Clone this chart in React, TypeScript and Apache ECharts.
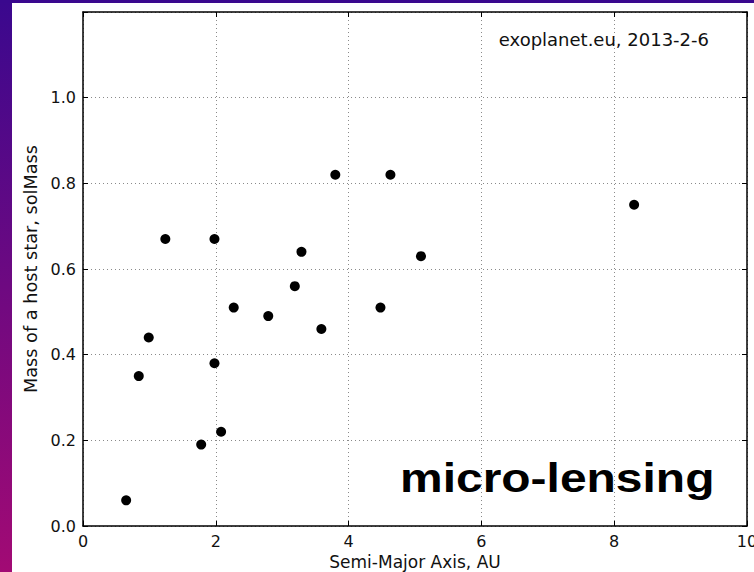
import React, { useEffect, useRef } from "react";
import * as echarts from "echarts";

const semiMajorAxis = [0.65, 0.84, 0.99, 1.24, 1.78, 1.98, 1.98, 2.08, 2.27, 2.79, 3.19, 3.29, 3.59, 3.8, 4.48, 4.63, 5.09, 8.3];
const hostMass = [0.06, 0.35, 0.44, 0.67, 0.19, 0.67, 0.38, 0.22, 0.51, 0.49, 0.56, 0.64, 0.46, 0.82, 0.51, 0.82, 0.63, 0.75];
const xTicks = [0, 2, 4, 6, 8, 10];
const yTicks = [0, 0.2, 0.4, 0.6, 0.8, 1.0, 1.2];

const FONT = "DejaVu Sans";

export default function App() {
  const ref = useRef<HTMLDivElement>(null);
  useEffect(() => {
    if (!ref.current) return;
    const chart = echarts.init(ref.current, undefined, { renderer: "svg" });
    const data = semiMajorAxis.map((x, i) => [x, hostMass[i]]);
    const yLabel = (v: number) => (v >= 1.1 ? "" : v.toFixed(1));
    const commonX = {
      type: "value" as const,
      min: xTicks[0],
      max: xTicks[xTicks.length - 1],
      interval: 2,
    };
    const commonY = {
      type: "value" as const,
      min: yTicks[0],
      max: yTicks[yTicks.length - 1],
      interval: 0.2,
    };
    const axisLine = { show: true, onZero: false, lineStyle: { color: "#000", width: 1.5 } };
    const axisTick = { show: true, inside: true, length: 5, lineStyle: { color: "#000", width: 1 } };
    const grid = { show: true, lineStyle: { color: "#8a8a8a", type: [1, 3], width: 1 } };
    chart.setOption({
      animation: false,
      backgroundColor: "#ffffff",
      textStyle: { fontFamily: FONT },
      grid: { left: 83, top: 12, right: 7, bottom: 46, containLabel: false, outerBoundsMode: "none" },
      graphic: [
        {
          type: "rect",
          shape: { x: 0, y: 0, width: 12, height: 572 },
          style: {
            fill: new echarts.graphic.LinearGradient(0, 0, 0, 1, [
              { offset: 0, color: "#3a088e" },
              { offset: 1, color: "#a20a74" },
            ]),
          },
          silent: true,
        },
        {
          type: "rect",
          shape: { x: 0, y: 0, width: 754, height: 3 },
          style: { fill: "#3a088e" },
          silent: true,
        },
        {
          type: "text",
          x: 709,
          y: 39,
          style: {
            text: "exoplanet.eu, 2013-2-6",
            font: `18px "${FONT}"`,
            fill: "#111",
            align: "right",
            verticalAlign: "middle",
          },
        },
        {
          type: "text",
          x: 400,
          y: 478,
          scaleX: 1.17,
          style: {
            text: "micro-lensing",
            font: `bold 41px "Liberation Sans", Arial, sans-serif`,
            fill: "#000",
            align: "left",
            verticalAlign: "middle",
          },
        },
      ],
      xAxis: [
        {
          ...commonX,
          position: "bottom",
          name: "Semi-Major Axis, AU",
          nameLocation: "middle",
          nameGap: 25,
          nameTextStyle: { fontFamily: FONT, fontSize: 17, color: "#111" },
          axisLine,
          axisTick,
          axisLabel: { fontFamily: FONT, fontSize: 16, color: "#111", margin: 7 },
          splitLine: grid,
        },
        {
          ...commonX,
          position: "top",
          axisLine,
          axisTick,
          axisLabel: { show: false },
          splitLine: { show: false },
        },
      ],
      yAxis: [
        {
          ...commonY,
          position: "left",
          name: "Mass of a host star, solMass",
          nameLocation: "middle",
          nameGap: 39,
          nameTextStyle: { fontFamily: FONT, fontSize: 17.7, color: "#111" },
          axisLine,
          axisTick,
          axisLabel: { fontFamily: FONT, fontSize: 16, color: "#111", margin: 7, formatter: yLabel },
          splitLine: grid,
        },
        {
          ...commonY,
          position: "right",
          axisLine,
          axisTick,
          axisLabel: { show: false },
          splitLine: { show: false },
        },
      ],
      series: [
        {
          type: "scatter",
          xAxisIndex: 0,
          yAxisIndex: 0,
          data,
          symbol: "circle",
          symbolSize: 10,
          itemStyle: { color: "#000", opacity: 1 },
          z: 5,
        },
      ],
    });
    return () => chart.dispose();
  }, []);
  return (
    <div style={{ position: "fixed", left: 0, top: 0, width: 754, height: 572 }}>
      <div ref={ref} style={{ width: 754, height: 572 }} />
    </div>
  );
}
